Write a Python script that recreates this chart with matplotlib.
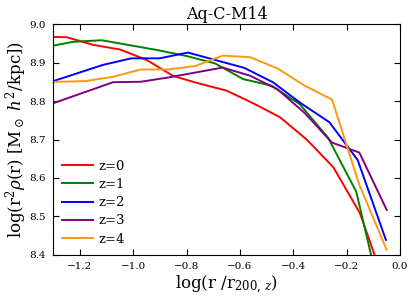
import matplotlib

matplotlib.use('Agg')
import matplotlib.pyplot as plt

matplotlib.rcParams['mathtext.fontset'] = 'dejavuserif'
matplotlib.rcParams['font.family'] = 'DejaVu Serif'

# radial bins, log(r / r200,z), one grid per redshift
x_z0 = [-1.35, -1.25, -1.15, -1.05, -0.95, -0.85, -0.75, -0.65, -0.55,
        -0.45, -0.35, -0.25, -0.15, -0.05]
y_z0 = [8.967, 8.966, 8.946, 8.934, 8.907, 8.865, 8.845, 8.827, 8.794,
        8.758, 8.700, 8.628, 8.508, 8.310]

x_z1 = [-1.330, -1.224, -1.118, -1.012, -0.906, -0.800, -0.694, -0.588,
        -0.482, -0.376, -0.270, -0.164, -0.058]
y_z1 = [8.940, 8.954, 8.958, 8.945, 8.932, 8.917, 8.898, 8.857,
        8.840, 8.792, 8.705, 8.564, 8.250]

x_z2 = [-1.325, -1.219, -1.113, -1.007, -0.901, -0.795, -0.689, -0.583,
        -0.477, -0.371, -0.265, -0.159, -0.053]
y_z2 = [8.846, 8.870, 8.894, 8.911, 8.911, 8.926, 8.906, 8.886,
        8.849, 8.794, 8.745, 8.647, 8.439]

x_z34 = [-1.3825, -1.28, -1.1775, -1.075, -0.9725, -0.87, -0.7675, -0.665,
         -0.5625, -0.46, -0.3575, -0.255, -0.1525, -0.05]
y_z3 = [8.775, 8.799, 8.824, 8.849, 8.850, 8.861, 8.874, 8.887,
        8.866, 8.831, 8.769, 8.692, 8.666, 8.517]
y_z4 = [8.848, 8.850, 8.852, 8.863, 8.882, 8.882, 8.891, 8.918,
        8.914, 8.885, 8.840, 8.804, 8.582, 8.413]

fig = plt.figure(figsize=(4.15, 3.01), dpi=100)
ax = fig.add_axes([0.128, 0.153, 0.836, 0.767])

ax.plot(x_z0, y_z0, color='red', lw=1.4, label='z=0')
ax.plot(x_z1, y_z1, color='green', lw=1.4, label='z=1')
ax.plot(x_z2, y_z2, color='blue', lw=1.4, label='z=2')
ax.plot(x_z34, y_z3, color='purple', lw=1.4, label='z=3')
ax.plot(x_z34, y_z4, color='#ff9910', lw=1.4, label='z=4')

ax.set_xlim(-1.3, 0.0)
ax.set_ylim(8.4, 9.0)
ax.set_xticks([-1.2, -1.0, -0.8, -0.6, -0.4, -0.2, 0.0])
ax.set_yticks([8.4, 8.5, 8.6, 8.7, 8.8, 8.9, 9.0])
ax.tick_params(direction='in', top=True, right=True, length=4.5,
               labelsize=7.5, pad=5)

ax.set_title('Aq-C-M14', fontsize=11.5, pad=4)
ax.set_xlabel(r'log(r /r$_{200,\,z}$)', fontsize=12, labelpad=2)
ax.set_ylabel(r'log(r$^2\rho$(r) [M$_\odot$ $h^2$/kpc])', fontsize=12,
              labelpad=0.5)

ax.legend(loc='lower left', frameon=False, fontsize=9.5, handlelength=2.3,
          handletextpad=0.4, labelspacing=0.4, borderaxespad=0.5,
          borderpad=0.2)

fig.savefig('out.png', dpi=100)
